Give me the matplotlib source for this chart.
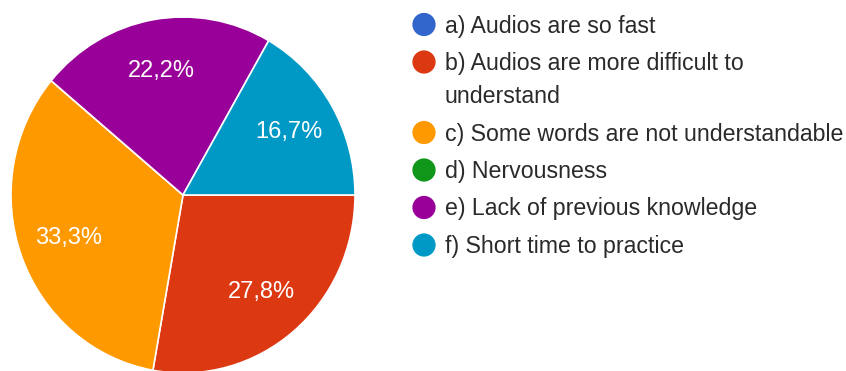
import matplotlib
matplotlib.use("Agg")
import matplotlib.pyplot as plt

plt.rcParams['font.family'] = ['Liberation Sans', 'DejaVu Sans']

labels = [
    "a) Audios are so fast",
    "b) Audios are more difficult to\nunderstand",
    "c) Some words are not understandable",
    "d) Nervousness",
    "e) Lack of previous knowledge",
    "f) Short time to practice",
]
shares = [0, 27.8, 33.3, 0, 22.2, 16.7]
colors = ["#3366cc", "#dc3912", "#ff9900", "#109618", "#990099", "#0099c6"]

W, H = 846, 371
fig = plt.figure(figsize=(W / 100, H / 100), dpi=100)


def pct_label(p):
    if p < 0.05:
        return ""
    return f"{p:.1f}%".replace(".", ",")


# pie, slightly taller than wide and running off the bottom edge
cx, cy, rx, ry = 183, 195, 172, 178
ax = fig.add_axes([(cx - rx) / W, (H - cy - ry) / H, 2 * rx / W, 2 * ry / H])
wedges, texts, autotexts = ax.pie(
    shares, colors=colors, startangle=0, counterclock=False,
    autopct=pct_label, pctdistance=0.71,
    wedgeprops=dict(edgecolor="white", linewidth=1.2),
    textprops=dict(color="white", fontsize=17),
)
ax.set_aspect("auto")
ax.set_xlim(-1, 1)
ax.set_ylim(-1, 1)

# legend drawn in pixel coordinates
lax = fig.add_axes([0, 0, 1, 1])
lax.set_xlim(0, W)
lax.set_ylim(H, 0)
lax.axis("off")

y = 24.5
for lab, col in zip(labels, colors):
    lax.scatter(424, y, s=280, color=col, edgecolors="none")
    lines = lab.split("\n")
    for k, line in enumerate(lines):
        lax.text(445, y + 1.5 + k * 33, line, fontsize=16.7, color="#2a2a2a",
                 ha="left", va="center")
    y += 37.5 + (len(lines) - 1) * 33

fig.savefig("out.png", dpi=100)
